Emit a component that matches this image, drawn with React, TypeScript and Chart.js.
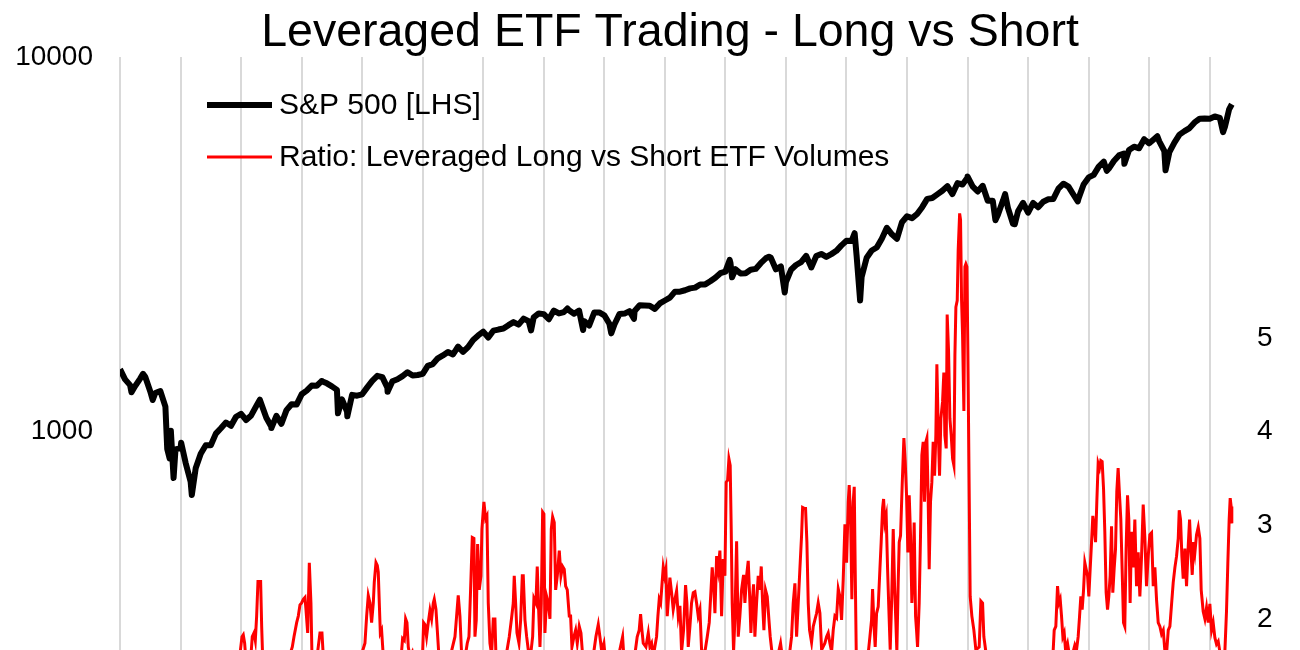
import { useEffect, useRef } from 'react';
import { Chart, registerables } from 'chart.js';

Chart.register(...registerables);

const TITLE = 'Leveraged ETF Trading - Long vs Short';
const SPX_LABEL = 'S&P 500 [LHS]';
const RATIO_LABEL = 'Ratio: Leveraged Long vs Short ETF Volumes';

const yearTicks = [2008, 2009, 2010, 2011, 2012, 2013, 2014, 2015, 2016, 2017, 2018, 2019, 2020, 2021, 2022, 2023, 2024, 2025, 2026];
const leftTicks = [100, 1000, 10000];
const rightTicks = [0, 1, 2, 3, 4, 5, 6, 7, 8];
const rightLabelMax = 5;

// S&P 500: first value (start of 2008) then month-end closes Jan 2008 .. Mar 2026
const spxStart: [number, number] = [2008.0, 1468];
const spxMonthlyCloses = [
  1378.55, 1330.63, 1322.7, 1385.59, 1400.38, 1280.0, 1267.38, 1282.83, 1166.36, 968.75, 896.24, 903.25,
  825.88, 735.09, 797.87, 872.81, 919.14, 919.32, 987.48, 1020.62, 1057.08, 1036.19, 1095.63, 1115.1,
  1073.87, 1104.49, 1169.43, 1186.69, 1089.41, 1030.71, 1101.6, 1049.33, 1141.2, 1183.26, 1180.55, 1257.64,
  1286.12, 1327.22, 1325.83, 1363.61, 1345.2, 1320.64, 1292.28, 1218.89, 1131.42, 1253.3, 1246.96, 1257.6,
  1312.41, 1365.68, 1408.47, 1397.91, 1310.33, 1362.16, 1379.32, 1406.58, 1440.67, 1412.16, 1416.18, 1426.19,
  1498.11, 1514.68, 1569.19, 1597.57, 1630.74, 1606.28, 1685.73, 1632.97, 1681.55, 1756.54, 1805.81, 1848.36,
  1782.59, 1859.45, 1872.34, 1883.95, 1923.57, 1960.23, 1930.67, 2003.37, 1972.29, 2018.05, 2067.56, 2058.9,
  1994.99, 2104.5, 2067.89, 2085.51, 2107.39, 2063.11, 2103.84, 1972.18, 1920.03, 2079.36, 2080.41, 2043.94,
  1940.24, 1932.23, 2059.74, 2065.3, 2096.95, 2098.86, 2173.6, 2170.95, 2168.27, 2126.15, 2198.81, 2238.83,
  2278.87, 2363.64, 2362.72, 2384.2, 2411.8, 2423.41, 2470.3, 2471.65, 2519.36, 2575.26, 2647.58, 2673.61,
  2823.81, 2713.83, 2640.87, 2648.05, 2705.27, 2718.37, 2816.29, 2901.52, 2913.98, 2711.74, 2760.17, 2506.85,
  2704.1, 2784.49, 2834.4, 2945.83, 2752.06, 2941.76, 2980.38, 2926.46, 2976.74, 3037.56, 3140.98, 3230.78,
  3225.52, 2954.22, 2584.59, 2912.43, 3044.31, 3100.29, 3271.12, 3500.31, 3363.0, 3269.96, 3621.63, 3756.07,
  3714.24, 3811.15, 3972.89, 4181.17, 4204.11, 4297.5, 4395.26, 4522.68, 4307.54, 4605.38, 4567.0, 4766.18,
  4515.55, 4373.94, 4530.41, 4131.93, 4132.15, 3785.38, 4130.29, 3955.0, 3585.62, 3871.98, 4080.11, 3839.5,
  4076.6, 3970.15, 4109.31, 4169.48, 4179.83, 4450.38, 4588.96, 4507.66, 4288.05, 4193.8, 4567.8, 4769.83,
  4845.65, 5096.27, 5254.35, 5035.69, 5277.51, 5460.48, 5522.3, 5648.4, 5762.48, 5705.45, 6032.38, 5881.63,
  6040.53, 5954.5, 5611.85, 5569.06, 5911.69, 6204.95, 6339.39, 6460.26, 6688.46, 6840.2, 6849, 6845,
  6940, 6880, 6500,
];
// intra-month highs / lows (decimal year, level)
const spxSwings: [number, number][] = [
  [2008.19, 1273], [2008.38, 1426], [2008.54, 1214], [2008.78, 899], [2008.82, 848], [2008.84, 1005],
  [2008.885, 752], [2009.01, 934], [2009.186, 677], [2010.31, 1217], [2010.5, 1022], [2011.33, 1364],
  [2011.6, 1119], [2011.755, 1099], [2012.42, 1278], [2014.79, 1862], [2015.39, 2131], [2015.65, 1867],
  [2016.115, 1829], [2016.49, 2000], [2018.07, 2873], [2018.11, 2581], [2018.72, 2930], [2018.98, 2351],
  [2019.42, 2744], [2020.135, 3386], [2020.225, 2237], [2022.0, 4797], [2022.46, 3667], [2022.62, 4305],
  [2022.78, 3577], [2023.82, 4117], [2024.3, 4967], [2024.59, 5186], [2025.135, 6144], [2025.27, 4983],
  [2026.22, 6300], [2026.27, 6700], [2026.32, 7250], [2026.365, 7480],
];

// Ratio of leveraged long vs short ETF volumes (decimal year, ratio)
const ratioSeries: [number, number][] = [
  [2008.0, 1.3], [2008.4, 1.2], [2008.8, 1.35], [2009.2, 1.25], [2009.6, 1.4], [2009.95, 1.45],
  [2010.015, 1.81], [2010.036, 1.83], [2010.059, 1.74], [2010.081, 1.55], [2010.164, 1.62], [2010.185, 1.81],
  [2010.213, 1.85], [2010.235, 1.77], [2010.257, 2.03], [2010.279, 2.4], [2010.323, 2.4], [2010.34, 1.92],
  [2010.356, 1.6], [2010.45, 1.45], [2010.6, 1.4], [2010.75, 1.5], [2010.846, 1.7], [2010.874, 1.81],
  [2010.918, 1.96], [2010.945, 2.03], [2010.973, 2.15], [2011.0, 2.17], [2011.028, 2.21], [2011.055, 2.23],
  [2011.072, 2.1], [2011.1, 1.85], [2011.127, 2.6], [2011.154, 2.17], [2011.171, 1.6], [2011.22, 1.5],
  [2011.259, 1.62], [2011.303, 1.85], [2011.336, 1.85], [2011.358, 1.6], [2011.5, 1.45], [2011.7, 1.4],
  [2011.9, 1.5], [2012.008, 1.66], [2012.046, 1.74], [2012.074, 2.03], [2012.101, 2.25], [2012.129, 2.17],
  [2012.156, 1.96], [2012.184, 2.17], [2012.2, 2.39], [2012.228, 2.6], [2012.25, 2.57], [2012.266, 2.5],
  [2012.283, 2.17], [2012.3, 1.85], [2012.321, 1.88], [2012.349, 1.6], [2012.45, 1.5], [2012.652, 1.66],
  [2012.668, 1.79], [2012.696, 1.77], [2012.718, 2.0], [2012.74, 1.96], [2012.762, 1.7], [2012.789, 1.6],
  [2012.828, 1.65], [2012.85, 1.58], [2012.93, 1.5], [2012.998, 1.62], [2013.015, 1.96], [2013.037, 1.94],
  [2013.064, 1.81], [2013.092, 1.96], [2013.12, 2.09], [2013.147, 2.0], [2013.175, 2.17], [2013.191, 2.21],
  [2013.219, 2.1], [2013.241, 1.88], [2013.268, 1.6], [2013.4, 1.45], [2013.533, 1.81], [2013.56, 2.03],
  [2013.587, 2.25], [2013.615, 2.03], [2013.643, 1.62], [2013.69, 1.55], [2013.736, 1.74], [2013.764, 1.81],
  [2013.791, 2.31], [2013.819, 2.87], [2013.846, 2.86], [2013.863, 1.81], [2013.885, 1.99], [2013.907, 2.8],
  [2013.934, 2.31], [2013.962, 2.46], [2013.978, 2.96], [2014.011, 3.25], [2014.039, 3.07], [2014.061, 3.1],
  [2014.083, 2.17], [2014.111, 1.74], [2014.138, 1.62], [2014.166, 2.0], [2014.193, 2.0], [2014.21, 1.6],
  [2014.35, 1.5], [2014.43, 1.81], [2014.468, 2.01], [2014.496, 2.17], [2014.512, 2.46], [2014.535, 2.17],
  [2014.557, 1.85], [2014.59, 1.74], [2014.618, 1.99], [2014.645, 2.46], [2014.661, 2.46], [2014.689, 1.99],
  [2014.717, 1.81], [2014.744, 1.67], [2014.78, 1.6], [2014.816, 1.81], [2014.837, 2.22], [2014.87, 2.17],
  [2014.892, 2.56], [2014.915, 2.1], [2014.937, 1.7], [2014.959, 2.17], [2014.981, 3.14], [2015.002, 3.12],
  [2015.019, 1.85], [2015.047, 2.24], [2015.074, 2.17], [2015.102, 2.0], [2015.124, 2.96], [2015.146, 3.09],
  [2015.173, 3.03], [2015.196, 2.31], [2015.223, 2.46], [2015.256, 2.73], [2015.283, 2.46], [2015.311, 2.56],
  [2015.338, 2.53], [2015.361, 2.35], [2015.388, 2.31], [2015.421, 2.03], [2015.443, 2.03], [2015.465, 1.7],
  [2015.498, 1.81], [2015.526, 1.88], [2015.553, 1.74], [2015.586, 1.92], [2015.614, 1.85], [2015.636, 1.66],
  [2015.73, 1.5], [2015.829, 1.66], [2015.861, 1.81], [2015.9, 1.94], [2015.927, 1.81], [2015.955, 1.66],
  [2015.993, 1.74], [2016.015, 1.58], [2016.1, 1.45], [2016.2, 1.5], [2016.302, 1.81], [2016.324, 1.58],
  [2016.4, 1.45], [2016.48, 1.5], [2016.543, 1.81], [2016.576, 1.88], [2016.599, 2.05], [2016.621, 1.88],
  [2016.643, 1.74], [2016.687, 1.7], [2016.726, 1.85], [2016.753, 1.7], [2016.781, 1.74], [2016.808, 1.6],
  [2016.863, 1.81], [2016.885, 2.03], [2016.907, 2.21], [2016.93, 2.17], [2016.946, 2.31], [2016.973, 2.55],
  [2016.996, 2.46], [2017.017, 2.53], [2017.039, 2.03], [2017.062, 2.24], [2017.083, 2.44], [2017.111, 2.28],
  [2017.138, 2.1], [2017.166, 2.21], [2017.194, 2.3], [2017.221, 2.03], [2017.249, 2.14], [2017.276, 1.65],
  [2017.309, 1.88], [2017.342, 2.36], [2017.364, 2.17], [2017.386, 1.7], [2017.414, 1.92], [2017.441, 2.17],
  [2017.469, 2.28], [2017.496, 2.29], [2017.524, 2.17], [2017.551, 2.03], [2017.579, 2.1], [2017.607, 1.66],
  [2017.662, 1.65], [2017.7, 1.81], [2017.733, 1.96], [2017.76, 2.28], [2017.782, 2.55], [2017.81, 2.31],
  [2017.827, 2.06], [2017.855, 2.67], [2017.881, 2.53], [2017.909, 2.73], [2017.937, 2.03], [2017.964, 2.64],
  [2017.992, 2.46], [2018.013, 3.46], [2018.036, 3.48], [2018.058, 3.71], [2018.079, 3.64], [2018.096, 2.96],
  [2018.112, 2.17], [2018.135, 1.65], [2018.157, 2.0], [2018.185, 2.83], [2018.212, 1.81], [2018.239, 2.03],
  [2018.267, 2.31], [2018.3, 2.47], [2018.322, 2.17], [2018.35, 2.46], [2018.377, 2.62], [2018.405, 2.17],
  [2018.421, 1.85], [2018.443, 2.17], [2018.465, 2.37], [2018.487, 1.81], [2018.515, 2.17], [2018.542, 2.46],
  [2018.57, 2.31], [2018.592, 2.56], [2018.614, 2.17], [2018.636, 1.88], [2018.663, 2.31], [2018.691, 2.24],
  [2018.719, 1.99], [2018.74, 1.81], [2018.768, 1.65], [2018.83, 1.5], [2018.911, 1.74], [2018.939, 1.6],
  [2019.0, 1.5], [2019.065, 1.66], [2019.093, 1.81], [2019.12, 2.17], [2019.148, 2.38], [2019.176, 1.81],
  [2019.203, 2.17], [2019.23, 2.53], [2019.258, 2.89], [2019.275, 3.19], [2019.302, 3.18], [2019.324, 3.18],
  [2019.346, 2.82], [2019.368, 2.17], [2019.39, 1.88], [2019.423, 1.75], [2019.451, 1.92], [2019.478, 1.99],
  [2019.506, 2.06], [2019.533, 2.17], [2019.561, 2.06], [2019.589, 1.67], [2019.643, 1.74], [2019.671, 1.81],
  [2019.698, 1.85], [2019.726, 1.74], [2019.754, 1.65], [2019.781, 1.88], [2019.809, 2.03], [2019.836, 2.01],
  [2019.864, 2.32], [2019.891, 2.24], [2019.919, 1.99], [2019.946, 2.42], [2019.974, 3.01], [2020.002, 2.6],
  [2020.029, 3.25], [2020.045, 3.43], [2020.068, 3.07], [2020.089, 2.21], [2020.111, 3.25], [2020.128, 3.41],
  [2020.144, 2.53], [2020.161, 1.65], [2020.26, 1.5], [2020.365, 1.67], [2020.387, 1.81], [2020.414, 1.99],
  [2020.431, 2.32], [2020.452, 1.96], [2020.474, 1.7], [2020.497, 2.06], [2020.524, 2.13], [2020.552, 2.53],
  [2020.573, 2.82], [2020.596, 3.18], [2020.613, 3.28], [2020.634, 3.03], [2020.656, 3.1], [2020.679, 2.53],
  [2020.7, 2.1], [2020.722, 1.67], [2020.745, 2.17], [2020.772, 2.96], [2020.794, 2.35], [2020.816, 1.96],
  [2020.832, 1.65], [2020.854, 2.39], [2020.871, 2.82], [2020.893, 2.89], [2020.92, 3.43], [2020.948, 3.93],
  [2020.97, 3.68], [2020.992, 3.32], [2021.014, 2.71], [2021.036, 3.32], [2021.058, 2.89], [2021.08, 2.17],
  [2021.102, 2.53], [2021.118, 3.03], [2021.141, 2.03], [2021.157, 1.88], [2021.174, 1.7], [2021.201, 2.17],
  [2021.223, 2.89], [2021.245, 3.75], [2021.267, 3.89], [2021.289, 3.25], [2021.311, 3.89], [2021.328, 3.93],
  [2021.35, 3.25], [2021.366, 2.53], [2021.388, 3.25], [2021.41, 3.46], [2021.432, 3.89], [2021.455, 3.53],
  [2021.476, 3.96], [2021.493, 4.72], [2021.515, 4.03], [2021.537, 3.53], [2021.559, 4.14], [2021.587, 4.32],
  [2021.608, 4.63], [2021.625, 3.96], [2021.647, 3.82], [2021.663, 5.25], [2021.686, 4.86], [2021.708, 4.14],
  [2021.73, 3.96], [2021.753, 3.71], [2021.774, 3.64], [2021.791, 4.82], [2021.807, 5.33], [2021.829, 5.4],
  [2021.845, 5.94], [2021.869, 6.33], [2021.884, 6.26], [2021.901, 5.4], [2021.917, 5.04], [2021.939, 4.22],
  [2021.956, 5.76], [2021.972, 5.79], [2021.989, 5.76], [2022.005, 4.86], [2022.022, 3.68], [2022.043, 2.24],
  [2022.071, 2.03], [2022.104, 1.88], [2022.137, 1.67], [2022.192, 1.7], [2022.22, 2.19], [2022.248, 2.17],
  [2022.269, 1.81], [2022.302, 1.65], [2022.5, 1.4], [2022.8, 1.3], [2023.1, 1.3], [2023.35, 1.45],
  [2023.414, 1.66], [2023.431, 1.88], [2023.458, 1.92], [2023.486, 2.35], [2023.508, 2.17], [2023.53, 2.21],
  [2023.552, 2.03], [2023.574, 1.81], [2023.596, 1.85], [2023.618, 1.67], [2023.651, 1.74], [2023.673, 1.65],
  [2023.71, 1.55], [2023.745, 1.65], [2023.772, 1.72], [2023.8, 1.67], [2023.827, 1.81], [2023.85, 2.03],
  [2023.871, 2.24], [2023.893, 2.1], [2023.916, 2.31], [2023.937, 2.6], [2023.959, 2.53], [2023.982, 2.46],
  [2024.003, 2.24], [2024.025, 2.53], [2024.048, 2.82], [2024.069, 3.1], [2024.091, 2.99], [2024.114, 2.82],
  [2024.135, 3.25], [2024.157, 3.66], [2024.18, 3.61], [2024.201, 3.69], [2024.223, 3.68], [2024.246, 3.39],
  [2024.267, 2.93], [2024.289, 2.28], [2024.312, 2.1], [2024.333, 2.24], [2024.355, 2.46], [2024.378, 2.99],
  [2024.399, 2.28], [2024.421, 2.53], [2024.444, 2.75], [2024.465, 3.36], [2024.487, 3.61], [2024.51, 3.32],
  [2024.531, 3.07], [2024.553, 2.53], [2024.576, 1.96], [2024.597, 1.92], [2024.619, 2.75], [2024.642, 3.32],
  [2024.663, 3.07], [2024.685, 2.17], [2024.708, 2.93], [2024.736, 2.55], [2024.763, 3.06], [2024.791, 2.35],
  [2024.818, 2.71], [2024.846, 2.24], [2024.874, 2.67], [2024.901, 3.22], [2024.929, 2.86], [2024.956, 2.35],
  [2024.984, 2.67], [2025.011, 2.9], [2025.039, 2.92], [2025.067, 2.35], [2025.094, 2.55], [2025.122, 2.2],
  [2025.149, 1.96], [2025.177, 1.92], [2025.204, 1.84], [2025.232, 1.88], [2025.26, 1.65], [2025.287, 1.63],
  [2025.315, 1.88], [2025.342, 1.92], [2025.37, 2.16], [2025.397, 2.39], [2025.425, 2.55], [2025.452, 2.67],
  [2025.48, 2.86], [2025.496, 3.16], [2025.518, 3.06], [2025.54, 2.67], [2025.562, 2.43], [2025.59, 2.75],
  [2025.617, 2.35], [2025.645, 2.78], [2025.667, 3.06], [2025.688, 2.75], [2025.711, 2.47], [2025.733, 2.82],
  [2025.755, 2.71], [2025.782, 2.9], [2025.81, 2.98], [2025.837, 2.86], [2025.859, 2.31], [2025.892, 2.08],
  [2025.92, 2.0], [2025.947, 2.12], [2025.975, 1.96], [2026.002, 2.16], [2026.03, 1.88], [2026.057, 1.96],
  [2026.085, 1.8], [2026.112, 1.73], [2026.14, 1.76], [2026.167, 1.65], [2026.211, 1.57], [2026.25, 1.65],
  [2026.277, 2.08], [2026.299, 2.59], [2026.321, 3.06], [2026.338, 3.29], [2026.354, 3.2], [2026.365, 3.02],
];

const FONT = '"Liberation Sans", Arial, Helvetica, sans-serif';
const SPX_COLOR = '#000000';
const RATIO_COLOR = '#ff0000';
const GRID_COLOR = '#d9d9d9';
const CANVAS_W = 1300;
const CANVAS_H = 850;

function buildSpxPoints() {
  const pts: { x: number; y: number }[] = [{ x: spxStart[0], y: spxStart[1] }];
  spxMonthlyCloses.forEach((v, i) => pts.push({ x: 2008 + (i + 1) / 12, y: v }));
  spxSwings.forEach(([x, y]) => pts.push({ x, y }));
  pts.sort((a, b) => a.x - b.x);
  return pts;
}

const overlayPlugin = {
  id: 'titleLegendOverlay',
  afterDraw(chart: any) {
    const ctx = chart.ctx as CanvasRenderingContext2D;
    const area = chart.chartArea;
    ctx.save();
    ctx.fillStyle = '#000';
    ctx.font = `46.5px ${FONT}`;
    ctx.textAlign = 'center';
    ctx.textBaseline = 'alphabetic';
    ctx.fillText(TITLE, 670, 46);

    const ds = chart.data.datasets;
    const items = [
      { label: ds[0].label, color: ds[0].borderColor, width: 6, y: area.top + 48 },
      { label: ds[1].label, color: ds[1].borderColor, width: 3, y: area.top + 100 },
    ];
    ctx.font = `30px ${FONT}`;
    ctx.textAlign = 'left';
    ctx.textBaseline = 'middle';
    const x0 = area.left + 87;
    for (const it of items) {
      ctx.strokeStyle = it.color;
      ctx.lineWidth = it.width;
      ctx.beginPath();
      ctx.moveTo(x0, it.y);
      ctx.lineTo(x0 + 65, it.y);
      ctx.stroke();
      ctx.fillStyle = '#000';
      ctx.fillText(it.label, x0 + 72, it.y + 1);
    }
    ctx.restore();
  },
};

export default function App() {
  const ref = useRef<HTMLCanvasElement | null>(null);

  useEffect(() => {
    if (!ref.current) return;
    const chart = new Chart(ref.current, {
      type: 'line',
      data: {
        datasets: [
          {
            label: SPX_LABEL,
            data: buildSpxPoints(),
            yAxisID: 'y',
            borderColor: SPX_COLOR,
            backgroundColor: SPX_COLOR,
            borderWidth: 6,
            pointRadius: 0,
            tension: 0,
            borderJoinStyle: 'round',
          },
          {
            label: RATIO_LABEL,
            data: ratioSeries.map(([x, y]) => ({ x, y })),
            yAxisID: 'y1',
            borderColor: RATIO_COLOR,
            backgroundColor: RATIO_COLOR,
            borderWidth: 3,
            pointRadius: 0,
            tension: 0,
          },
        ],
      },
      options: {
        responsive: false,
        animation: false,
        layout: { padding: { top: 57, bottom: 17, left: 0, right: 0 } },
        plugins: {
          legend: { display: false },
          title: { display: false },
          tooltip: { enabled: false },
        },
        scales: {
          x: {
            type: 'linear',
            min: 2008,
            max: 2026.5,
            border: { display: false },
            grid: { color: GRID_COLOR, lineWidth: 2, drawTicks: false },
            ticks: { display: false },
            afterBuildTicks: (s: any) => {
              s.ticks = yearTicks.map((v) => ({ value: v }));
            },
            afterFit: (s: any) => {
              s.height = 0;
            },
          },
          y: {
            type: 'logarithmic',
            position: 'left',
            min: 100,
            max: 10000,
            border: { display: false },
            grid: { display: false, drawTicks: false },
            ticks: {
              color: '#000',
              padding: 27,
              font: { family: FONT, size: 28 },
              callback: (v: any) => String(v),
            },
            afterBuildTicks: (s: any) => {
              s.ticks = leftTicks.map((v) => ({ value: v }));
            },
            afterFit: (s: any) => {
              s.width = 120;
            },
          },
          y1: {
            type: 'linear',
            position: 'right',
            min: 0,
            max: 8,
            border: { display: false },
            grid: { display: false, drawTicks: false },
            ticks: {
              color: '#000',
              padding: 17,
              font: { family: FONT, size: 28 },
              callback: (v: any) => (Number(v) <= rightLabelMax ? String(v) : ''),
            },
            afterBuildTicks: (s: any) => {
              s.ticks = rightTicks.map((v) => ({ value: v }));
            },
            afterFit: (s: any) => {
              s.width = 60;
            },
          },
        },
      } as any,
      plugins: [overlayPlugin],
    });
    return () => chart.destroy();
  }, []);

  return (
    <div style={{ position: 'fixed', left: 0, top: 0, width: CANVAS_W, height: CANVAS_H, background: '#fff' }}>
      <canvas ref={ref} width={CANVAS_W} height={CANVAS_H} style={{ display: 'block' }} />
    </div>
  );
}
